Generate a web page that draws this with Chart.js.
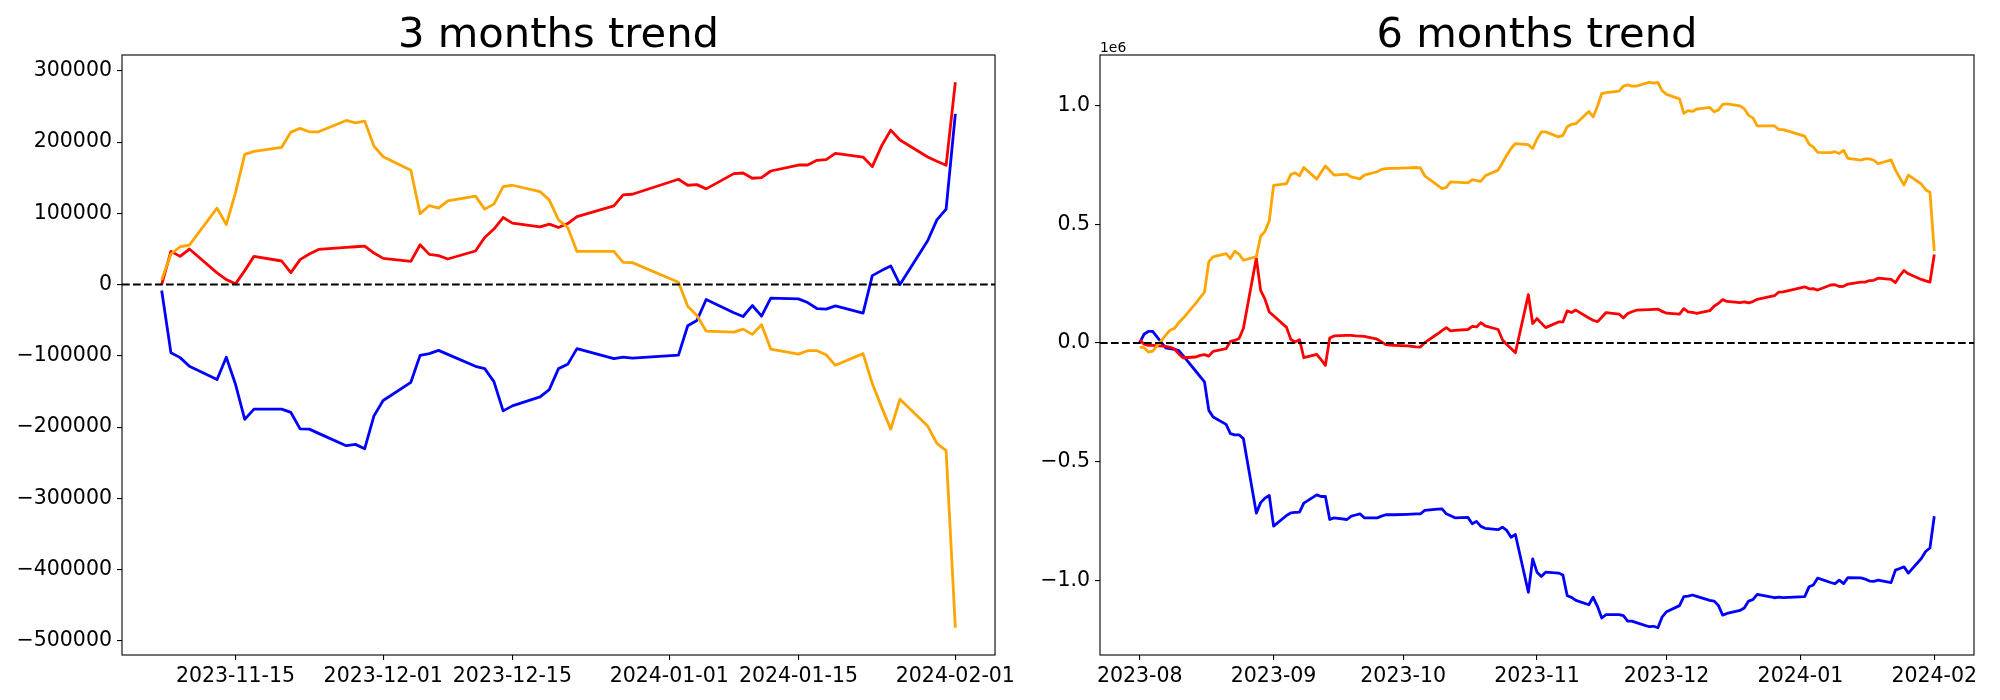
<!DOCTYPE html>
<html>
<head>
<meta charset="utf-8">
<script src="https://cdn.jsdelivr.net/npm/chart.js@4.4.1/dist/chart.umd.min.js"></script>
<style>
  html, body { margin: 0; padding: 0; background: #fff; }
  #wrap { position: relative; width: 2000px; height: 700px; }
  canvas { position: absolute; top: 0; }
  #left { left: 0; }
  #right { left: 1020px; }
</style>
</head>
<body>
<div id="wrap">
  <canvas id="left" width="1020" height="700"></canvas>
  <canvas id="right" width="980" height="700"></canvas>
</div>
<script>
// ---- 3 months ----
const leftDates = [
  '2023-11-07','2023-11-08','2023-11-09','2023-11-10','2023-11-13','2023-11-14','2023-11-15','2023-11-16','2023-11-17',
  '2023-11-20','2023-11-21','2023-11-22','2023-11-23','2023-11-24','2023-11-27','2023-11-28','2023-11-29','2023-11-30',
  '2023-12-01','2023-12-04','2023-12-05','2023-12-06','2023-12-07','2023-12-08','2023-12-11','2023-12-12','2023-12-13',
  '2023-12-14','2023-12-15','2023-12-18','2023-12-19','2023-12-20','2023-12-21','2023-12-22','2023-12-26','2023-12-27',
  '2023-12-28','2024-01-02','2024-01-03','2024-01-04','2024-01-05','2024-01-08','2024-01-09','2024-01-10','2024-01-11',
  '2024-01-12','2024-01-15','2024-01-16','2024-01-17','2024-01-18','2024-01-19','2024-01-22','2024-01-23','2024-01-24',
  '2024-01-25','2024-01-26','2024-01-29','2024-01-30','2024-01-31','2024-02-01'
];
const leftOrange = [
  6600, 42900, 53100, 55500, 107300, 84300, 129100, 182800, 187000, 192600, 214000, 219200, 214400, 214400, 230300, 227000, 229400, 194400,
  179400, 160400, 99300, 110900, 107300, 117500, 124100, 105900, 112900, 137500, 139400, 130500, 118500, 90900, 80100, 46600, 46600, 31200, 30800,
  3300, -30300, -43400, -65300, -66700, -62500, -69900, -56400, -90500, -97500, -92800, -92800, -98400, -113300, -96900, -138900, -171600,
  -202800, -160800, -198600, -222800, -233100, -481500
];
const leftRed = [
  0, 46600, 39600, 49900, 16400, 7000, 1000, 19600, 39600, 33100, 16800, 35000, 42900, 49400, 52200, 53100, 54100, 44300,
  36800, 32600, 55900, 42400, 40600, 35900, 47100, 66200, 77900, 94100, 86300, 81100, 84900, 80100, 85700, 95500, 110500, 125900, 126800,
  147800, 139400, 140300, 134300, 155700, 156600, 149200, 150100, 159400, 167800, 167800, 174400, 175300, 184200, 179000, 165500, 194400,
  216800, 202800, 179000, 173000, 167400, 283900
];
const leftBlue = [
  -8400, -95500, -102500, -114700, -133300, -102000, -139900, -189200, -174800, -174800, -179400, -202400, -202800, -208800, -226100, -224200, -230300, -184200,
  -162700, -137100, -99300, -96900, -92300, -97900, -114700, -117900, -136100, -177200, -170200, -157600, -147300, -117900, -111900, -89900, -103900, -101700, -103100,
  -98900, -57800, -50300, -21000, -39600, -44800, -29400, -44300, -19100, -20000, -25200, -33600, -34500, -29800, -40100, 12600, 19600,
  26100, 0, 61500, 90900, 105900, 239600
];
const leftXTicks = ['2023-11-15', '2023-12-01', '2023-12-15', '2024-01-01', '2024-01-15', '2024-02-01'];
const leftYTicks = [-500000, -400000, -300000, -200000, -100000, 0, 100000, 200000, 300000];

// ---- 6 months ----
const rightDates = [
  '2023-08-01','2023-08-02','2023-08-03','2023-08-04','2023-08-07','2023-08-08','2023-08-09','2023-08-10','2023-08-11',
  '2023-08-14','2023-08-15','2023-08-16','2023-08-17','2023-08-18','2023-08-21','2023-08-22','2023-08-23','2023-08-24',
  '2023-08-25','2023-08-28','2023-08-29','2023-08-30','2023-08-31',
  '2023-09-01','2023-09-04','2023-09-05','2023-09-06','2023-09-07','2023-09-08','2023-09-11','2023-09-12','2023-09-13',
  '2023-09-14','2023-09-15','2023-09-18','2023-09-19','2023-09-20','2023-09-21','2023-09-22','2023-09-25','2023-09-26',
  '2023-09-27','2023-09-28','2023-09-29',
  '2023-10-02','2023-10-03','2023-10-04','2023-10-05','2023-10-06','2023-10-09','2023-10-10','2023-10-11','2023-10-12',
  '2023-10-13','2023-10-16','2023-10-17','2023-10-18','2023-10-19','2023-10-20','2023-10-23','2023-10-24','2023-10-25',
  '2023-10-26','2023-10-27','2023-10-30','2023-10-31',
  '2023-11-01','2023-11-02','2023-11-03','2023-11-06'
].concat(leftDates);
const rightOrange = [
  -17000, -19000, -38000, -34000, 32000, 54000, 61000, 85000, 103000, 168000, 192000, 215000, 343000, 363000, 377000, 356000, 387000, 375000,
  349000, 364000, 450000, 471000, 515000,
  665000, 672000, 711000, 717000, 705000, 740000, 691000, 720000, 746000, 727000, 708000, 712000, 700000, 696000, 692000, 708000, 722000, 732000,
  735000, 736000, 736000,
  738000, 739000, 740000, 738000, 705000, 665000, 651000, 656000, 679000, 678000, 675000, 689000, 685000, 682000, 705000, 729000, 760000, 792000,
  820000, 841000, 836000, 820000,
  860000, 890000, 890000, 869000,
  875600, 911900, 922100, 924500, 976300, 953300, 998100, 1051800, 1056000, 1061600, 1083000, 1088200, 1083400, 1083400, 1099300, 1096000, 1098400, 1063400,
  1048400, 1029400, 968300, 979900, 976300, 986500, 993100, 974900, 981900, 1006500, 1008400, 999500, 987500, 959900, 949100, 915600, 915600, 900200, 899800,
  872300, 838700, 825600, 803700, 802300, 806500, 799100, 812600, 778500, 771500, 776200, 776200, 770600, 755700, 772100, 730100, 697400,
  666200, 708200, 670400, 646200, 635900, 387500
];
const rightRed = [
  14000, -5000, -10000, -10000, -14000, -18000, -24000, -45000, -62000, -59000, -52000, -49000, -55000, -35000, -24000, 7000, 11000, 19000,
  61000, 358000, 222000, 185000, 131000,
  115000, 66000, 15000, 4000, 14000, -62000, -48000, -70000, -94000, 21000, 30000, 32000, 32000, 30000, 29000, 28000, 16000, 5000,
  -7000, -9000, -10000,
  -12000, -14000, -16000, -17000, 2000, 39000, 52000, 65000, 51000, 53000, 57000, 70000, 68000, 86000, 72000, 57000, 14000, -6000,
  -23000, -41000, 204000, 82000,
  103000, 84000, 65000, 89000,
  89000, 135600, 128600, 138900, 105400, 96000, 90000, 108600, 128600, 122100, 105800, 124000, 131900, 138400, 141200, 142100, 143100, 133300,
  125800, 121600, 144900, 131400, 129600, 124900, 136100, 155200, 166900, 183100, 175300, 170100, 173900, 169100, 174700, 184500, 199500, 214900, 215800,
  236800, 228400, 229300, 223300, 244700, 245600, 238200, 239100, 248400, 256800, 256800, 263400, 264300, 273200, 268000, 254500, 283400,
  305800, 291800, 268000, 262000, 256400, 372900
];
const rightBlue = [
  2000, 37000, 49000, 49000, -20000, -24000, -27000, -31000, -52000, -119000, -142000, -164000, -284000, -312000, -343000, -382000, -387000, -387000,
  -403000, -717000, -673000, -654000, -643000,
  -772000, -727000, -716000, -714000, -713000, -675000, -640000, -647000, -647000, -744000, -737000, -744000, -730000, -725000, -720000, -737000, -737000, -730000,
  -724000, -724000, -724000,
  -722000, -721000, -720000, -720000, -706000, -700000, -699000, -720000, -728000, -737000, -735000, -762000, -752000, -773000, -781000, -787000, -776000, -790000,
  -819000, -807000, -1051000, -910000,
  -966000, -984000, -966000, -970000,
  -978400, -1065500, -1072500, -1084700, -1103300, -1072000, -1109900, -1159200, -1144800, -1144800, -1149400, -1172400, -1172800, -1178800, -1196100, -1194200, -1200300, -1154200,
  -1132700, -1107100, -1069300, -1066900, -1062300, -1067900, -1084700, -1087900, -1106100, -1147200, -1140200, -1127600, -1117300, -1087900, -1081900, -1059900, -1073900, -1071700, -1073100,
  -1068900, -1027800, -1020300, -991000, -1009600, -1014800, -999400, -1014300, -989100, -990000, -995200, -1003600, -1004500, -999800, -1010100, -957400, -950400,
  -943900, -970000, -908500, -879100, -864100, -730400
];
const rightXTicks = ['2023-08', '2023-09', '2023-10', '2023-11', '2023-12', '2024-01', '2024-02'];
const rightYTicks = [-1000000, -500000, 0, 500000, 1000000];

Chart.defaults.font.family = '"DejaVu Sans", sans-serif';
Chart.defaults.color = '#000';

const toDay = s => Date.parse((s.length === 7 ? s + '-01' : s) + 'T00:00:00Z') / 86400000;
const withMinus = s => String(s).replace('-', '\u2212');

// matplotlib style 5% margins
function padRange(lo, hi) {
  const m = (hi - lo) * 0.05;
  return [lo - m, hi + m];
}

// zero line, full box, title and offset text
const framePlugin = {
  id: 'frame',
  afterDraw(chart, args, opts) {
    const { ctx, chartArea: a } = chart;
    const y0 = chart.scales.y.getPixelForValue(0);
    ctx.save();
    ctx.strokeStyle = '#000';
    ctx.lineWidth = 2;
    ctx.setLineDash([7.7, 3.3]);
    ctx.beginPath();
    ctx.moveTo(a.left, y0);
    ctx.lineTo(a.right, y0);
    ctx.stroke();
    ctx.setLineDash([]);
    ctx.lineWidth = 1.1;
    ctx.strokeRect(a.left, a.top, a.right - a.left, a.bottom - a.top);
    ctx.fillStyle = '#000';
    ctx.textBaseline = 'alphabetic';
    ctx.textAlign = 'center';
    ctx.font = '41.7px "DejaVu Sans"';
    ctx.fillText(opts.title, (a.left + a.right) / 2, a.top - 8.3);
    if (opts.offset) {
      ctx.textAlign = 'left';
      ctx.font = '13.9px "DejaVu Sans"';
      ctx.fillText(opts.offset, a.left, a.top - 3.5);
    }
    ctx.restore();
  }
};

function drawTrend(id, title, dates, orange, red, blue, xTicks, yTicks, yWidth, padRight, yFormat, offset) {
  const days = dates.map(toDay);
  const xr = padRange(days[0], days[days.length - 1]);
  const all = orange.concat(red, blue);
  const yr = padRange(Math.min(...all), Math.max(...all));
  const pts = vals => vals.map((v, i) => ({ x: days[i], y: v }));
  const line = (vals, color) => ({
    data: pts(vals),
    borderColor: color,
    borderWidth: 2.8,
    pointRadius: 0,
    tension: 0,
    fill: false,
    borderJoinStyle: 'round'
  });
  const tickGrid = { drawOnChartArea: false, drawTicks: true, tickLength: 5, color: '#000', lineWidth: 1.1 };

  return new Chart(document.getElementById(id), {
    type: 'line',
    data: {
      datasets: [line(orange, '#ffa500'), line(red, '#ff0000'), line(blue, '#0000ff')]
    },
    options: {
      responsive: false,
      animation: false,
      devicePixelRatio: 1,
      events: [],
      layout: { padding: { top: 55, right: padRight, left: 0, bottom: 0 } },
      plugins: {
        legend: { display: false },
        tooltip: { enabled: false },
        frame: { title: title, offset: offset }
      },
      scales: {
        x: {
          type: 'linear',
          min: xr[0],
          max: xr[1],
          afterBuildTicks: s => { s.ticks = xTicks.map(t => ({ value: toDay(t) })); },
          afterFit: s => { s.height = 45; },
          grid: tickGrid,
          border: { display: false },
          ticks: {
            autoSkip: false, maxRotation: 0, padding: 4,
            font: { size: 20.5 },
            callback: (v, i) => xTicks[i]
          }
        },
        y: {
          type: 'linear',
          min: yr[0],
          max: yr[1],
          afterBuildTicks: s => { s.ticks = yTicks.map(v => ({ value: v })); },
          afterFit: s => { s.width = yWidth; },
          grid: tickGrid,
          border: { display: false },
          ticks: {
            padding: 5,
            font: { size: 20.5 },
            callback: yFormat
          }
        }
      }
    },
    plugins: [framePlugin]
  });
}

drawTrend('left', '3 months trend', leftDates, leftOrange, leftRed, leftBlue,
  leftXTicks, leftYTicks, 122, 24, v => withMinus(v), null);

drawTrend('right', '6 months trend', rightDates, rightOrange, rightRed, rightBlue,
  rightXTicks, rightYTicks, 80, 26, v => withMinus((v / 1e6).toFixed(1)), '1e6');
</script>
</body>
</html>
